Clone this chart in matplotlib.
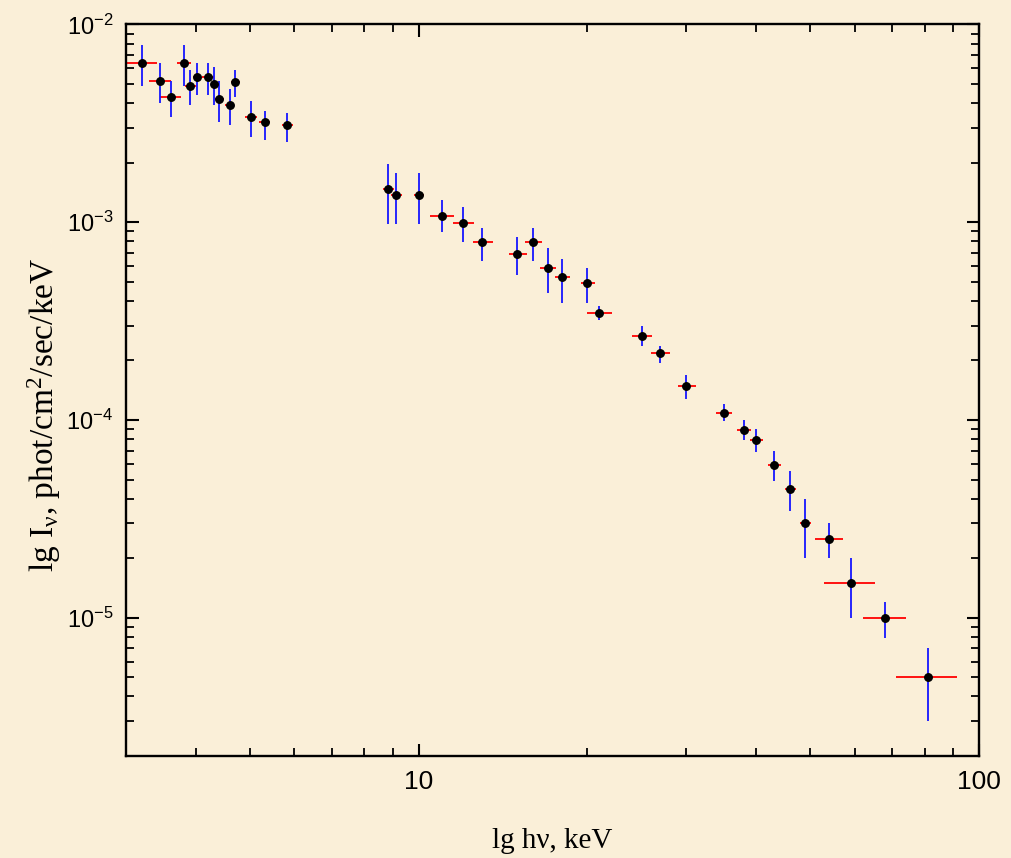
import matplotlib
matplotlib.use("Agg")
import matplotlib.pyplot as plt
from matplotlib import font_manager
from matplotlib.ticker import LogLocator, LogFormatterSciNotation, NullFormatter
import numpy as np

# ---- data ----
energy = [3.21, 3.45, 3.61, 3.82, 3.91, 4.02, 4.21, 4.31, 4.41, 4.61, 4.71, 5.02, 5.31, 5.82,
          8.83, 9.11, 10.0, 11.0, 12.0, 13.0, 15.0, 16.0, 17.0, 18.0, 20.0, 21.0,
          25.0, 27.0, 30.0, 35.0, 38.0, 40.0, 43.0, 46.0, 49.0, 54.0, 59.0, 68.0, 81.0]
energy_lo = [3.00, 3.30, 3.46, 3.71, 3.83, 3.96, 4.11, 4.26, 4.33, 4.51, 4.62, 4.90, 5.19, 5.70,
             8.63, 8.93, 9.82, 10.5, 11.5, 12.5, 14.5, 15.5, 16.5, 17.5, 19.5, 20.0,
             24.0, 26.0, 29.0, 34.0, 37.0, 39.0, 42.0, 45.0, 48.0, 51.0, 53.0, 62.0, 71.0]
energy_hi = [3.42, 3.62, 3.76, 3.92, 4.00, 4.07, 4.32, 4.37, 4.49, 4.67, 4.81, 5.14, 5.43, 5.96,
             9.04, 9.33, 10.24, 11.55, 12.56, 13.58, 15.6, 16.6, 17.6, 18.6, 20.65, 22.1,
             26.1, 28.1, 31.2, 36.2, 39.2, 41.2, 44.3, 47.2, 50.2, 57.2, 65.3, 74.2, 91.2]
flux = [6.4e-3, 5.2e-3, 4.3e-3, 6.4e-3, 4.9e-3, 5.4e-3, 5.4e-3, 5.0e-3, 4.2e-3, 3.9e-3, 5.1e-3, 3.4e-3, 3.2e-3, 3.1e-3,
        1.47e-3, 1.38e-3, 1.38e-3, 1.08e-3, 9.9e-4, 7.9e-4, 6.9e-4, 7.9e-4, 5.9e-4, 5.3e-4, 4.95e-4, 3.46e-4,
        2.67e-4, 2.18e-4, 1.48e-4, 1.09e-4, 8.9e-5, 7.9e-5, 5.9e-5, 4.5e-5, 3.0e-5, 2.5e-5, 1.5e-5, 1.0e-5, 5.0e-6]
flux_lo = [4.9e-3, 4.0e-3, 3.4e-3, 4.9e-3, 3.9e-3, 4.4e-3, 4.4e-3, 3.9e-3, 3.2e-3, 3.1e-3, 4.3e-3, 2.7e-3, 2.6e-3, 2.55e-3,
           9.8e-4, 9.8e-4, 9.8e-4, 8.9e-4, 7.9e-4, 6.4e-4, 5.4e-4, 6.4e-4, 4.4e-4, 3.9e-4, 3.9e-4, 3.2e-4,
           2.37e-4, 1.95e-4, 1.28e-4, 9.9e-5, 7.9e-5, 6.9e-5, 4.9e-5, 3.45e-5, 2.0e-5, 2.0e-5, 1.0e-5, 7.9e-6, 3.0e-6]
flux_hi = [7.85e-3, 6.4e-3, 5.2e-3, 7.85e-3, 5.9e-3, 6.4e-3, 6.4e-3, 6.1e-3, 5.2e-3, 4.7e-3, 5.9e-3, 4.1e-3, 3.65e-3, 3.55e-3,
           1.96e-3, 1.78e-3, 1.78e-3, 1.29e-3, 1.19e-3, 9.4e-4, 8.4e-4, 9.4e-4, 7.4e-4, 6.55e-4, 5.9e-4, 3.77e-4,
           2.97e-4, 2.38e-4, 1.68e-4, 1.20e-4, 9.95e-5, 8.96e-5, 6.96e-5, 5.5e-5, 3.97e-5, 3.0e-5, 2.0e-5, 1.2e-5, 7.0e-6]

x_label = "lg h\u03bd, keV"
y_label = r"lg I$_{\nu}$, phot/cm$^{2}$/sec/keV"

# ---- fonts ----
names = {f.name for f in font_manager.fontManager.ttflist}
narrow = "Liberation Sans Narrow" if "Liberation Sans Narrow" in names else None
plt.rcParams["font.family"] = ["Liberation Sans", "DejaVu Sans"]
plt.rcParams["mathtext.default"] = "regular"
plt.rcParams["axes.unicode_minus"] = False

bg = "#faefd8"
fig = plt.figure(figsize=(10.12, 8.58), dpi=100, facecolor=bg)
ax = fig.add_axes([0.1241, 0.1189, 0.8433, 0.8526])
ax.set_facecolor(bg)

x = np.array(energy)
y = np.array(flux)
xerr = [x - np.array(energy_lo), np.array(energy_hi) - x]
yerr = [y - np.array(flux_lo), np.array(flux_hi) - y]

ax.errorbar(x, y, xerr=xerr, fmt="none", ecolor="#ff0000", elinewidth=1.3, capsize=0, zorder=2)
ax.errorbar(x, y, yerr=yerr, fmt="none", ecolor="#1515ff", elinewidth=1.3, capsize=0, zorder=3)
ax.plot(x, y, "o", color="black", ms=5.4, zorder=4)

ax.set_xscale("log")
ax.set_yscale("log")
ax.set_xlim(3, 100)
ax.set_ylim(2e-6, 1e-2)

ax.xaxis.set_major_locator(LogLocator(base=10))
ax.xaxis.set_minor_locator(LogLocator(base=10, subs=np.arange(2, 10)))
ax.xaxis.set_minor_formatter(NullFormatter())
ax.xaxis.set_major_formatter(matplotlib.ticker.FuncFormatter(lambda v, p: "%d" % round(v)))
ax.yaxis.set_major_locator(LogLocator(base=10))
ax.yaxis.set_minor_locator(LogLocator(base=10, subs=np.arange(2, 10)))
ax.yaxis.set_minor_formatter(NullFormatter())
ax.yaxis.set_major_formatter(LogFormatterSciNotation())

ax.tick_params(which="both", direction="in", top=True, right=True, color="black")
ax.tick_params(which="major", length=9, width=1.5)
ax.tick_params(which="minor", length=5.5, width=1.3)
ax.tick_params(axis="x", which="major", labelsize=19, pad=10)
ax.tick_params(axis="y", which="major", pad=9)
for lab in ax.get_yticklabels():
    if narrow:
        lab.set_fontfamily([narrow, "Liberation Sans"])
        lab.set_fontsize(20)
    else:
        lab.set_fontsize(17)
for s in ax.spines.values():
    s.set_linewidth(1.7)

fig.text(552 / 1012, 1 - 841 / 858, x_label, ha="center", va="center",
         fontsize=21, family=["Liberation Serif", "DejaVu Serif"])
fig.text(44 / 1012, 1 - 415 / 858, y_label, ha="center", va="center", rotation=90,
         fontsize=24, family=["Liberation Serif", "DejaVu Serif"])

fig.savefig("out.png", dpi=100, facecolor=bg)
